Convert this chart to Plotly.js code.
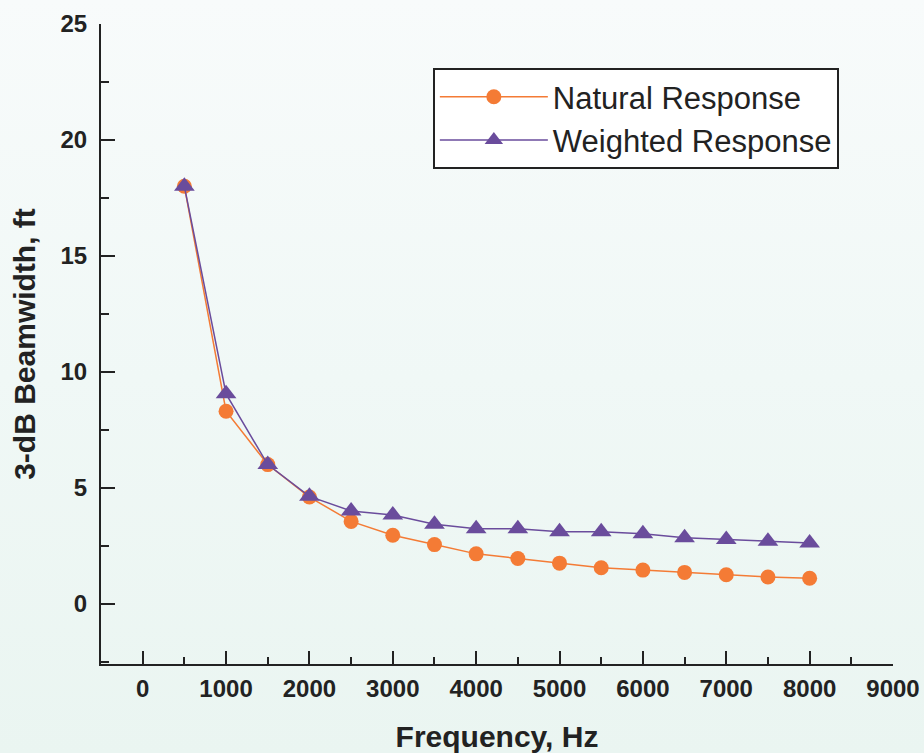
<!DOCTYPE html>
<html>
<head>
<meta charset="utf-8">
<script src="https://cdn.plot.ly/plotly-3.0.1.min.js"></script>
<style>
html,body{margin:0;padding:0;width:924px;height:753px;overflow:hidden;
background:linear-gradient(to bottom,#f8fbfb 0%,#f0f8f6 50%,#eaf5f1 100%);}
#chart{width:924px;height:753px;}
</style>
</head>
<body>
<div id="chart"></div>
<script>
const frequency = [500,1000,1500,2000,2500,3000,3500,4000,4500,5000,5500,6000,6500,7000,7500,8000];
const naturalResponse = [18.0,8.3,6.0,4.6,3.55,2.95,2.55,2.15,1.95,1.75,1.55,1.45,1.35,1.25,1.15,1.1];
const weightedResponse = [18.0,9.05,6.0,4.63,4.0,3.83,3.43,3.23,3.23,3.1,3.1,3.02,2.84,2.77,2.69,2.62];
const seriesNames = ["Natural Response","Weighted Response"];

const font = "Liberation Sans, Arial, Helvetica, sans-serif";
const data = [
  {x: frequency, y: naturalResponse, name: seriesNames[0], type: "scatter", mode: "lines+markers",
   line: {color: "#f47b35", width: 1.5},
   marker: {symbol: "circle", size: 15, color: "#f47b35"}},
  {x: frequency, y: weightedResponse, name: seriesNames[1], type: "scatter", mode: "lines+markers",
   line: {color: "#6a4c9c", width: 1.5},
   marker: {symbol: "triangle-up", size: 18, color: "#6a4c9c"}}
];

const layout = {
  width: 924, height: 753,
  paper_bgcolor: "rgba(0,0,0,0)", plot_bgcolor: "rgba(0,0,0,0)",
  margin: {l: 101, r: 31, t: 24, b: 89},
  font: {family: font, color: "#222"},
  showlegend: true,
  legend: {x: 0.419, y: 0.931, xanchor: "left", yanchor: "top",
    bgcolor: "#ffffff", bordercolor: "#222", borderwidth: 2,
    font: {family: font, size: 31, color: "#222"}, tracegroupgap: 0, itemwidth: 108},
  xaxis: {range: [-500, 9000], tickmode: "linear", tick0: 0, dtick: 1000,
    showgrid: false, zeroline: false, showline: true, linecolor: "#222", linewidth: 2,
    ticks: "inside", ticklen: 13, tickwidth: 2, tickcolor: "#222",
    minor: {dtick: 500, tick0: 0, ticklen: 7, tickwidth: 2, tickcolor: "#222", ticks: "inside"},
    tickfont: {family: font, size: 24, color: "#222", weight: "bold"},
    ticklabelstandoff: 2,
    title: {text: "<b>Frequency, Hz</b>", font: {family: font, size: 30, color: "#222"}, standoff: 26}},
  yaxis: {range: [-2.6, 25], tickmode: "linear", tick0: 0, dtick: 5,
    showgrid: false, zeroline: false, showline: true, linecolor: "#222", linewidth: 2,
    ticks: "inside", ticklen: 14, tickwidth: 2, tickcolor: "#222",
    minor: {dtick: 2.5, tick0: 0, ticklen: 8, tickwidth: 2, tickcolor: "#222", ticks: "inside"},
    tickfont: {family: font, size: 24, color: "#222", weight: "bold"},
    ticklabelstandoff: 7,
    title: {text: "<b>3-dB Beamwidth, ft</b>", font: {family: font, size: 30, color: "#222"}, standoff: 16}}
};
Plotly.newPlot("chart", data, layout, {displayModeBar: false, staticPlot: true});
</script>
</body>
</html>
